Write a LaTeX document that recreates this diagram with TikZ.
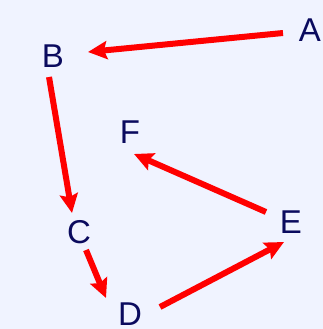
\documentclass[tikz,border=0pt]{standalone}
\usepackage{fontspec}
\setmainfont{Liberation Sans}
\usetikzlibrary{arrows.meta,calc}
\definecolor{bgc}{HTML}{F0F3FF}
\definecolor{txt}{HTML}{0A0A5E}
\definecolor{arr}{HTML}{FF0000}
\begin{document}
\begin{tikzpicture}[x=1pt,y=-1pt,
  lbl/.style={text=txt,font=\fontsize{33}{33}\selectfont,inner sep=0pt},
  edge/.style={draw=arr,line width=6pt,-{Stealth[length=19pt,width=18pt,inset=3pt]}}]
\fill[bgc] (0,0) rectangle (323,329);
\useasboundingbox (0,0) rectangle (323,329);
\node[lbl] (A) at (310,30) {A};
\node[lbl] (B) at (53,56) {B};
\node[lbl] (C) at (79,232) {C};
\node[lbl] (D) at (130,314) {D};
\node[lbl] (E) at (291,222) {E};
\node[lbl] (F) at (130,132) {F};
\draw[edge] ($(A.center)+(-27,3)$) -- ($(B.center)+(35,-4)$);
\draw[edge] ($(B.center)+(-4,21)$) -- ($(C.center)+(-7,-19)$);
\draw[edge] ($(C.center)+(7,18)$) -- ($(D.center)+(-24,-16)$);
\draw[edge] ($(D.center)+(30,-7)$) -- ($(E.center)+(-7,20)$);
\draw[edge] ($(E.center)+(-25,-10)$) -- ($(F.center)+(4,22)$);
\end{tikzpicture}
\end{document}
